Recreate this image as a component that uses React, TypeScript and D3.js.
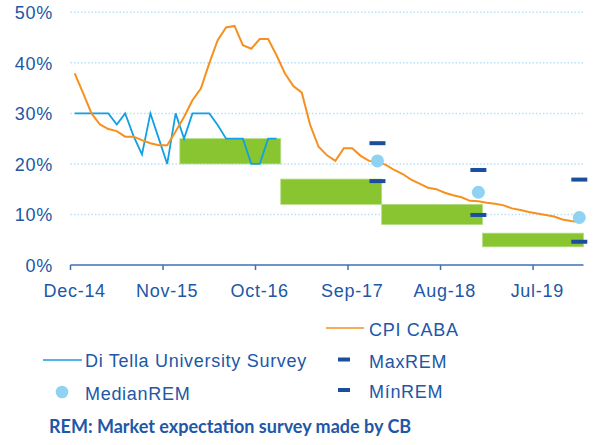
import React from 'react';
import * as d3 from 'd3';

// month labels are Excel-style "Mon-yy", series start in Dec-14
const START = 'Dec-14';
const tickLabels = ['Dec-14', 'Nov-15', 'Oct-16', 'Sep-17', 'Aug-18', 'Jul-19'];
const yTicks = [0, 10, 20, 30, 40, 50];

// CPI CABA, monthly Dec-14 .. Dec-19 (% y/y)
const cpiCaba = [
  37.9, 34.0, 30.0, 27.8, 26.9, 26.5, 25.4, 25.4, 24.7, 24.1, 23.7, 23.7, 26.4, 29.3, 32.6, 34.9,
  39.9, 44.5, 47.0, 47.3, 43.5, 42.8, 44.7, 44.7, 41.5, 37.9, 35.4, 34.1, 27.7, 23.4, 21.7, 20.6,
  23.1, 23.1, 21.6, 20.6, 20.4, 19.8, 18.8, 18.0, 16.9, 16.1, 15.3, 15.0, 14.3, 13.8, 13.4, 12.7,
  12.6, 12.3, 12.1, 11.8, 11.2, 10.9, 10.5, 10.2, 9.9, 9.6, 9.0, 8.7, 8.5,
];

// Di Tella University survey, monthly Dec-14 .. Dec-16
const diTella = [
  30, 30, 30, 30, 30, 27.8, 30, 25.5, 21.9, 30, 25, 20, 30, 25, 30, 30, 30, 27.7, 25, 25, 25, 20,
  20, 25, 25,
];

// inflation target bands (one year each)
const targetStart = ['Jan-16', 'Jan-17', 'Jan-18', 'Jan-19'];
const targetLow = [20, 12, 8, 3.6];
const targetHigh = [25, 17, 12, 6.3];

// REM expectations
const remMonths = ['Dec-17', 'Dec-18', 'Dec-19'];
const remMax = [24.1, 18.8, 16.9];
const remMedian = [20.6, 14.4, 9.4];
const remMin = [16.6, 9.9, 4.6];

const TEXT = '#2157a6';
const AXIS = '#3b6fb8';
const ORANGE = '#f7901e';
const CYAN = '#12a0e2';
const GREEN = '#88c530';
const DOT = '#8fd2f1';
const DASH = '#1b4f9e';
const FONT = '"Liberation Sans", Arial, sans-serif';

const parseMonth = d3.timeParse('%b-%y');
const monthIdx = (s: string) => d3.timeMonth.count(parseMonth(START)!, parseMonth(s)!);

export default function App() {
  const width = 594;
  const height = 445;

  const x = d3.scaleLinear().domain([0, 61]).range([70.5, 583.5]);
  const y = d3.scaleLinear().domain([0, 50]).range([265, 12.3]);
  const mid = (i: number) => x(i + 0.5);

  const line = d3
    .line<number>()
    .x((_, i) => mid(i))
    .y(d => y(d));

  const labelStyle = { fontFamily: FONT, fontSize: 18, letterSpacing: '0.7px', fill: TEXT };

  return (
    <svg
      width={width}
      height={height}
      style={{ position: 'absolute', left: 0, top: 0, background: '#fff' }}
    >
      {/* gridlines */}
      {yTicks.filter(t => t > 0).map(t => (
        <line
          key={t}
          x1={x(0)}
          x2={x(61)}
          y1={y(t)}
          y2={y(t)}
          stroke="#b9e1f7"
          strokeWidth={1.5}
          strokeDasharray="1.5 2"
        />
      ))}

      {/* target bands */}
      {targetStart.map((s, i) => {
        const i0 = monthIdx(s);
        return (
          <rect
            key={s}
            x={x(i0)}
            y={y(targetHigh[i])}
            width={x(i0 + 12) - x(i0)}
            height={y(targetLow[i]) - y(targetHigh[i])}
            fill={GREEN}
            stroke="#b4dc86"
            strokeWidth={0.8}
          />
        );
      })}

      {/* y labels */}
      {yTicks.map(t => (
        <text key={t} x={53} y={y(t) + 7} textAnchor="end" {...labelStyle}>
          {t}%
        </text>
      ))}

      {/* x axis */}
      <line x1={x(0)} x2={x(61)} y1={y(0)} y2={y(0)} stroke={AXIS} strokeWidth={1.5} />
      {tickLabels.map(l => {
        const i = monthIdx(l);
        return (
          <g key={l}>
            <line x1={x(i)} x2={x(i)} y1={y(0)} y2={y(0) + 5} stroke={AXIS} strokeWidth={1.5} />
            <text x={mid(i)} y={297} textAnchor="middle" {...labelStyle}>
              {l}
            </text>
          </g>
        );
      })}

      {/* series */}
      <path d={line(diTella)!} fill="none" stroke={CYAN} strokeWidth={1.8} />
      <path d={line(cpiCaba)!} fill="none" stroke={ORANGE} strokeWidth={2} />

      {remMonths.map((m, i) => {
        const cx = mid(monthIdx(m));
        return (
          <g key={m}>
            <rect x={cx - 8} y={y(remMax[i]) - 2} width={16} height={4} fill={DASH} />
            <rect x={cx - 8} y={y(remMin[i]) - 2} width={16} height={4} fill={DASH} />
            <circle cx={cx} cy={y(remMedian[i])} r={6.5} fill={DOT} />
          </g>
        );
      })}

      {/* legend */}
      <line x1={326} x2={364} y1={328} y2={328} stroke={ORANGE} strokeWidth={1.5} />
      <text x={369} y={336} {...labelStyle}>CPI CABA</text>

      <line x1={43} x2={82} y1={360} y2={360} stroke={CYAN} strokeWidth={1.5} />
      <text x={85} y={367} {...labelStyle}>Di Tella University Survey</text>
      <rect x={338} y={357.5} width={12} height={4} fill={DASH} />
      <text x={369} y={368} {...labelStyle}>MaxREM</text>

      <circle cx={62} cy={392} r={6.3} fill={DOT} />
      <text x={85} y={400} {...labelStyle}>MedianREM</text>
      <rect x={338} y={388} width={12} height={4} fill={DASH} />
      <text x={369} y={398} {...labelStyle}>MínREM</text>

      <text
        x={49}
        y={433}
        fontFamily='Lato, "Open Sans", sans-serif'
        fontWeight="bold"
        fontSize={18}
        fill={TEXT}
      >
        REM: Market expectation survey made by CB
      </text>
    </svg>
  );
}
